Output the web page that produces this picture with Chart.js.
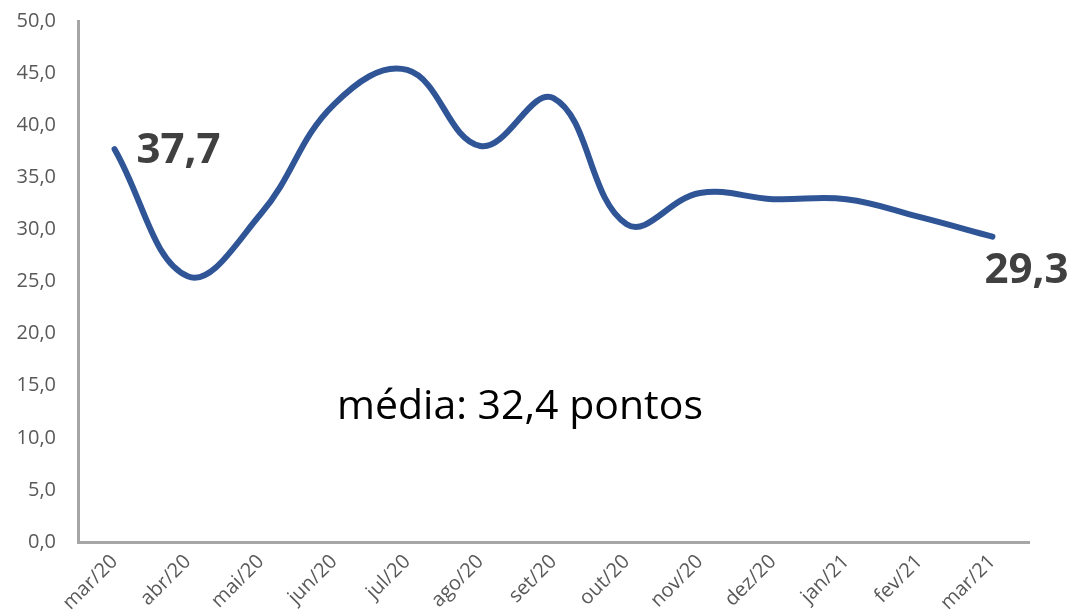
<!DOCTYPE html>
<html>
<head>
<meta charset="utf-8">
<script src="https://cdn.jsdelivr.net/npm/chart.js@4"></script>
<style>
  html, body { margin: 0; padding: 0; background: #fff; }
  #wrap { width: 1072px; height: 615px; position: relative; }
</style>
</head>
<body>
<div id="wrap"><canvas id="c"></canvas></div>
<script>
// Índice mensal (pontos)
const meses = ["mar/20", "abr/20", "mai/20", "jun/20", "jul/20", "ago/20", "set/20",
               "out/20", "nov/20", "dez/20", "jan/21", "fev/21", "mar/21"];
const valores = [37.7, 25.5, 31.5, 42.0, 45.3, 38.0, 42.6, 30.5, 33.5, 32.9, 32.9, 31.2, 29.3];
const yTicks = [0, 5, 10, 15, 20, 25, 30, 35, 40, 45, 50];
const notaMedia = "média: 32,4 pontos";

const AZUL = "#2F5597", CINZA = "#A6A6A6", TEXTO = "#595959";
const fmt = (v) => v.toFixed(1).replace(".", ",");

// rótulos do primeiro e último ponto + texto da média
const rotulos = {
  id: "rotulos",
  afterDatasetsDraw(chart) {
    const { ctx, chartArea } = chart;
    const pts = chart.getDatasetMeta(0).data;
    const n = pts.length - 1;
    ctx.save();
    ctx.fillStyle = "#404040";
    ctx.font = "bold 42px 'Open Sans', sans-serif";
    ctx.textBaseline = "middle";
    ctx.textAlign = "left";
    ctx.fillText(fmt(valores[0]), pts[0].x + 22, pts[0].y + 2);
    ctx.textAlign = "center";
    ctx.fillText(fmt(valores[n]), pts[n].x + 34, pts[n].y + 34);
    ctx.fillStyle = "#000";
    ctx.font = "41px 'Open Sans', sans-serif";
    ctx.textAlign = "left";
    ctx.fillText(notaMedia, chartArea.left + 259, chart.scales.y.getPixelForValue(12.9));
    ctx.restore();
  }
};

new Chart(document.getElementById("c"), {
  type: "line",
  data: {
    labels: meses,
    datasets: [{
      data: valores,
      borderColor: AZUL,
      borderWidth: 6,
      borderCapStyle: "round",
      tension: 0.4,
      pointRadius: 0,
      fill: false
    }]
  },
  options: {
    responsive: true,
    maintainAspectRatio: false,
    animation: false,
    layout: { padding: { top: 21, right: 43, left: 0, bottom: 0 } },
    plugins: { legend: { display: false }, tooltip: { enabled: false } },
    scales: {
      x: {
        offset: true,
        grid: { display: false, drawTicks: false },
        border: { color: CINZA, width: 3 },
        ticks: {
          color: TEXTO, font: { family: "'Open Sans', sans-serif", size: 20 },
          minRotation: 45, maxRotation: 45, padding: 8, autoSkip: false
        },
        afterFit: (s) => { s.height = 73; }
      },
      y: {
        min: 0, max: 50,
        afterBuildTicks: (s) => { s.ticks = yTicks.map((v) => ({ value: v })); },
        grid: { display: false, drawTicks: false },
        border: { color: CINZA, width: 3 },
        ticks: {
          color: TEXTO, font: { family: "'Open Sans', sans-serif", size: 20 },
          padding: 22, callback: (v) => fmt(v)
        },
        afterFit: (s) => { s.width = 78; s.paddingTop = 0; s.paddingBottom = 0; }
      }
    }
  },
  plugins: [rotulos]
});
</script>
</body>
</html>
